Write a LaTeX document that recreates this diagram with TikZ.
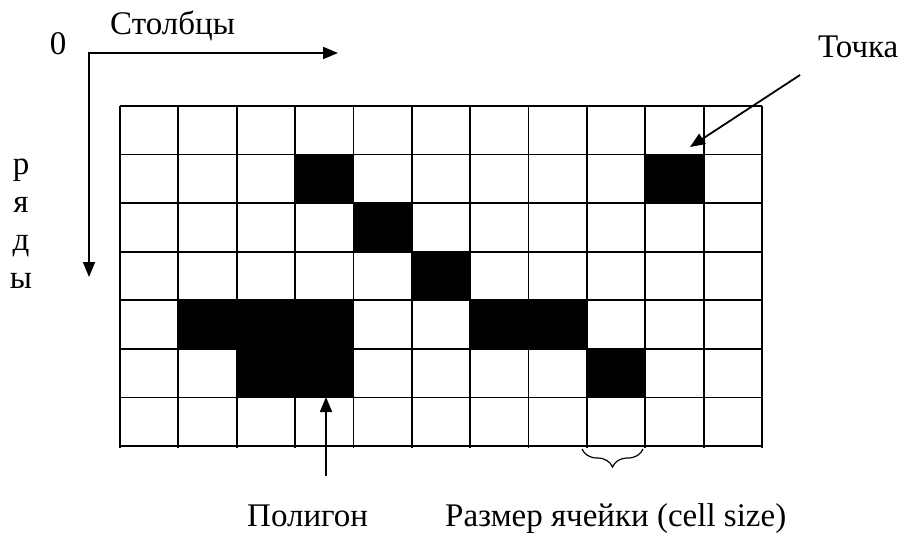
\documentclass[tikz,border=0pt]{standalone}
\usepackage{fontspec}
\setmainfont{Liberation Serif}
\usetikzlibrary{arrows.meta,decorations.pathreplacing}

\begin{document}
\begin{tikzpicture}[x=1pt,y=-1pt,
    lbl/.style={inner sep=0pt,font=\fontsize{33}{39}\selectfont},
    gridline/.style={line width=1.8pt},
    axis/.style={line width=1.8pt,-{Triangle[length=15pt,width=12pt]}},
    pointer/.style={line width=1.8pt,-{Triangle[length=15pt,width=12pt]}},
    filled/.style={fill=black,draw=none}]
  \useasboundingbox (0,0) rectangle (904,535);

  % raster geometry: 11 columns x 7 rows
  \def\gx{120}\def\gy{106}
  \def\cw{58.3636}\def\ch{48.5714}

  % occupied cells (column, row), counted from the top-left corner
  \foreach \c/\r in {3/1,9/1,4/2,5/3,1/4,2/4,3/4,6/4,7/4,2/5,3/5,8/5}
    \fill[filled] (\gx+\c*\cw,\gy+\r*\ch) rectangle (\gx+\c*\cw+\cw,\gy+\r*\ch+\ch);

  % grid lines
  \foreach \i in {0,...,11}
    \draw[gridline] (\gx+\i*\cw,\gy) -- (\gx+\i*\cw,\gy+7*\ch+2);
  \foreach \j in {0,...,7}
    \draw[gridline] (\gx,\gy+\j*\ch) -- (\gx+11*\cw,\gy+\j*\ch);

  % axes with origin
  \coordinate (origin) at (88,53);
  \coordinate (colend) at (338,53);
  \coordinate (rowstart) at (89,54);
  \coordinate (rowend) at (89,277);
  \draw[axis] (origin) -- (colend);
  \draw[axis] (rowstart) -- (rowend);
  \node[lbl,anchor=base] (zero) at (58,55) {0};
  \node[lbl,anchor=base west] (cols) at (110,35) {Столбцы};
  \node[lbl,anchor=base] (r1) at (21,174) {р};
  \node[lbl,anchor=base] (r2) at (21,212) {я};
  \node[lbl,anchor=base] (r3) at (21,250) {д};
  \node[lbl,anchor=base] (r4) at (21,288) {ы};

  % point feature
  \node[lbl,anchor=base west] (tochka) at (818,58) {Точка};
  \coordinate (ptail) at (800,75);
  \coordinate (phead) at (690,147);
  \draw[pointer] (ptail) -- (phead);

  % polygon feature
  \node[lbl,anchor=base west] (poly) at (247,526) {Полигон};
  \coordinate (gtail) at (326,476);
  \coordinate (ghead) at (326,397);
  \draw[pointer] (gtail) -- (ghead);

  % cell size brace
  \coordinate (bl) at (582,449);
  \coordinate (br) at (643,449);
  \draw[line width=1.2pt,decorate,decoration={brace,mirror,amplitude=18pt}] (bl) -- (br);
  \node[lbl,anchor=base west] (cellsize) at (445,526) {Размер ячейки (cell size)};
\end{tikzpicture}
\end{document}
